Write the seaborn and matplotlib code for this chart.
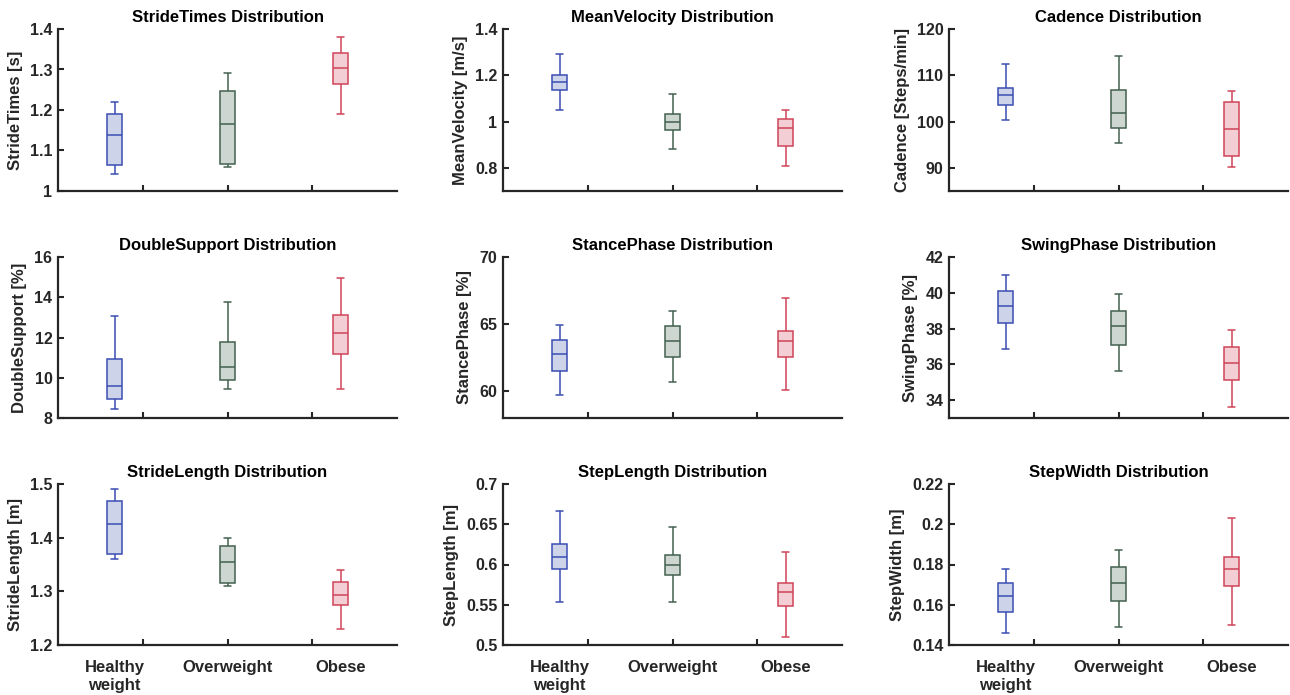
import numpy as np
import pandas as pd
import matplotlib
matplotlib.use("Agg")
import matplotlib.pyplot as plt
import seaborn as sns
from matplotlib.ticker import FixedLocator, FuncFormatter

# ---------------- data (five-number summaries: min, Q1, median, Q3, max) ----------------
groups = ["Healthy\nweight", "Overweight", "Obese"]

stride_times = [[1.041, 1.064, 1.139, 1.191, 1.220],
                [1.060, 1.067, 1.165, 1.248, 1.291],
                [1.189, 1.265, 1.304, 1.340, 1.381]]
mean_velocity = [[1.052, 1.138, 1.172, 1.203, 1.290],
                 [0.881, 0.965, 1.000, 1.032, 1.118],
                 [0.810, 0.896, 0.972, 1.010, 1.049]]
cadence = [[100.3, 103.5, 105.8, 107.3, 112.5],
           [95.3, 98.6, 101.9, 106.9, 114.2],
           [90.2, 92.6, 98.5, 104.3, 106.7]]
double_support = [[8.46, 8.94, 9.60, 10.93, 13.06],
                  [9.46, 9.89, 10.54, 11.78, 13.77],
                  [9.44, 11.19, 12.24, 13.10, 14.98]]
stance_phase = [[59.70, 61.51, 62.77, 63.81, 64.95],
                [60.69, 62.52, 63.76, 64.83, 65.97],
                [60.10, 62.57, 63.71, 64.48, 66.91]]
swing_phase = [[36.87, 38.29, 39.26, 40.08, 41.01],
               [35.60, 37.09, 38.12, 38.98, 39.93],
               [33.60, 35.10, 36.09, 36.96, 37.91]]
stride_length = [[1.360, 1.369, 1.425, 1.468, 1.490],
                 [1.310, 1.316, 1.355, 1.384, 1.399],
                 [1.229, 1.274, 1.294, 1.317, 1.340]]
step_length = [[0.554, 0.5945, 0.6097, 0.6254, 0.666],
               [0.554, 0.5866, 0.5993, 0.6124, 0.646],
               [0.510, 0.5487, 0.5656, 0.5776, 0.616]]
step_width = [[0.1458, 0.1565, 0.1644, 0.1707, 0.1778],
              [0.1489, 0.1619, 0.1710, 0.1788, 0.1873],
              [0.1499, 0.1692, 0.1779, 0.1837, 0.2030]]

metric_names = ["StrideTimes", "MeanVelocity", "Cadence",
                "DoubleSupport", "StancePhase", "SwingPhase",
                "StrideLength", "StepLength", "StepWidth"]
metric_units = ["[s]", "[m/s]", "[Steps/min]", "[%]", "[%]", "[%]", "[m]", "[m]", "[m]"]
metric_data = [stride_times, mean_velocity, cadence, double_support, stance_phase,
               swing_phase, stride_length, step_length, step_width]
metric_yticks = [[1, 1.1, 1.2, 1.3, 1.4], [0.8, 1, 1.2, 1.4], [90, 100, 110, 120],
                 [8, 10, 12, 14, 16], [60, 65, 70], [34, 36, 38, 40, 42],
                 [1.2, 1.3, 1.4, 1.5], [0.5, 0.55, 0.6, 0.65, 0.7],
                 [0.14, 0.16, 0.18, 0.2, 0.22]]
metric_ylims = [(1.0, 1.4), (0.7, 1.4), (85, 120), (8, 16), (58, 70), (33, 42),
                (1.2, 1.5), (0.5, 0.7), (0.14, 0.22)]

# ---------------- styling ----------------
edge_colors = ["#3a4db2", "#42604f", "#cf4459"]
fill_colors = ["#cdd4ea", "#cdd6d1", "#f3cfd5"]
text_col = "#262626"

sns.set_theme(style="white")
plt.rcParams["font.family"] = ["Liberation Sans", "DejaVu Sans"]
plt.rcParams["font.weight"] = "bold"
plt.rcParams["axes.labelweight"] = "bold"
plt.rcParams["axes.titleweight"] = "bold"

fig = plt.figure(figsize=(12.9, 6.95), dpi=100)
W, H = 1290.0, 695.0
col_left = [58, 503, 949]
ax_w = 339
row_tb = [(29, 191), (257, 418), (484, 645)]

for k in range(9):
    r, c = divmod(k, 3)
    top, bot = row_tb[r]
    ax = fig.add_axes([col_left[c] / W, 1 - bot / H, ax_w / W, (bot - top) / H])
    rows = []
    for gi, g in enumerate(groups):
        for v in metric_data[k][gi]:
            rows.append({"group": g, "value": v})
    df = pd.DataFrame(rows)
    for gi, g in enumerate(groups):
        sub = df[df["group"] == g]
        sns.boxplot(data=sub, x="group", y="value", order=groups,
                    color=fill_colors[gi], linecolor=edge_colors[gi],
                    width=0.135, whis=(0, 100), linewidth=1.1, saturation=1,
                    showfliers=False, ax=ax)
    ax.set_xlim(-0.5, 2.5)
    ax.set_ylim(*metric_ylims[k])
    ax.yaxis.set_major_locator(FixedLocator(metric_yticks[k]))
    ax.yaxis.set_major_formatter(FuncFormatter(lambda v, p: f"{v:g}"))
    ax.xaxis.set_major_locator(FixedLocator([0, 1, 2]))
    ax.xaxis.set_minor_locator(FixedLocator([0.25, 1.0, 1.75]))
    ax.xaxis.remove_overlapping_locs = False
    if r == 2:
        ax.set_xticklabels(groups, fontsize=12, fontweight="bold", color=text_col,
                           linespacing=1.2)
    else:
        ax.set_xticklabels([])
    ax.tick_params(axis="x", which="major", bottom=True, length=0, pad=11)
    ax.tick_params(axis="x", which="minor", bottom=True, direction="in", length=4,
                   width=1.5, color=text_col)
    ax.tick_params(axis="y", which="major", left=True, direction="in", length=4,
                   width=1.5, color=text_col, labelsize=11.5, labelcolor=text_col, pad=4)
    for lab in ax.get_yticklabels():
        lab.set_fontweight("bold")
    for s in ["top", "right"]:
        ax.spines[s].set_visible(False)
    for s in ["left", "bottom"]:
        ax.spines[s].set_color(text_col)
        ax.spines[s].set_linewidth(1.6)
    ax.set_xlabel("")
    ax.set_ylabel(f"{metric_names[k]} {metric_units[k]}", fontsize=12,
                  fontweight="bold", color=text_col, labelpad=5)
    ax.set_title(f"{metric_names[k]} Distribution", fontsize=12,
                 fontweight="bold", color="black", pad=5)

fig.savefig("out.png", dpi=100)
